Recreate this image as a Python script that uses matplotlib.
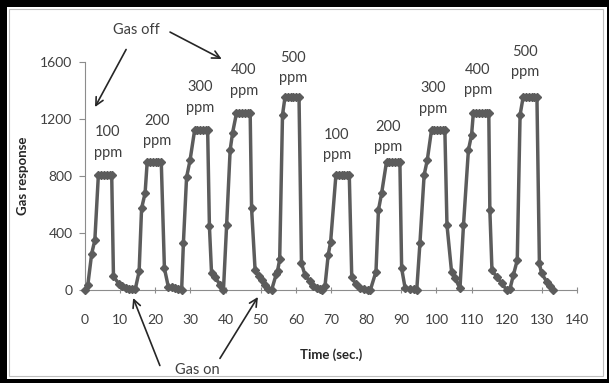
import matplotlib
matplotlib.use("Agg")
import matplotlib.pyplot as plt
from matplotlib.patches import Rectangle

plt.rcParams['font.family'] = ['Lato', 'DejaVu Sans']

# Sensor response over repeated exposure cycles (100-500 ppm, twice)
time_s = [
    0.0, 0.8, 1.9, 2.8, 3.8, 4.6, 5.4, 6.2, 7.0, 7.6, 8.1, 9.6, 10.6, 11.6, 12.6, 13.5,
    14.3, 15.4, 16.1, 17.1, 17.7, 18.5, 19.3, 20.1, 20.9, 21.7, 22.6, 23.7, 24.7, 25.6, 26.6, 27.5,
    28.0, 28.9, 29.9, 31.2, 32.0, 32.8, 33.6, 34.4, 34.9, 35.4, 36.0, 37.0, 38.4, 39.4,
    40.3, 41.3, 42.0, 43.1, 43.9, 44.7, 45.5, 46.3, 47.0, 47.4, 48.4, 49.4, 50.3, 51.3, 52.2, 53.1,
    54.4, 54.8, 55.4, 56.2, 56.9, 57.7, 58.5, 59.3, 60.1, 60.9, 61.6, 62.6, 64.0, 65.0, 65.9, 66.8, 67.3,
    68.3, 69.2, 69.9, 71.4, 72.2, 73.0, 73.8, 74.6, 75.2, 75.9, 77.0, 78.3, 79.5, 80.4, 81.2,
    82.8, 83.5, 84.4, 85.8, 86.6, 87.4, 88.2, 89.0, 89.6, 90.1, 91.1, 92.5, 93.5, 94.4,
    95.3, 96.5, 97.4, 98.6, 99.4, 100.2, 101.0, 101.8, 102.4, 103.0, 104.3, 105.3, 106.7,
    107.7, 109.1, 110.0, 110.5, 111.3, 112.1, 112.9, 113.7, 114.4, 114.9, 115.2, 115.8, 117.1, 118.6, 120.0,
    120.9, 121.9, 123.0, 123.8, 124.7, 125.5, 126.3, 127.1, 127.9, 128.6, 129.3, 129.9, 131.4, 132.3, 133.3,
]
response = [
    0, 35, 255, 350, 805, 805, 805, 805, 805, 805, 95, 45, 25, 15, 10, 8,
    5, 130, 573, 680, 900, 900, 900, 900, 900, 900, 152, 23, 18, 14, 8, 0,
    330, 790, 912, 1123, 1123, 1123, 1123, 1123, 1123, 449, 122, 94, 35, 0,
    456, 982, 1104, 1240, 1240, 1240, 1240, 1240, 1240, 573, 140, 100, 70, 35, 5, 0,
    110, 135, 215, 1228, 1352, 1352, 1352, 1352, 1352, 1352, 187, 105, 60, 30, 12, 5, 0,
    30, 245, 340, 807, 807, 807, 807, 807, 807, 94, 40, 12, 5, 3, 0,
    129, 561, 678, 900, 900, 900, 900, 900, 900, 152, 12, 8, 5, 0,
    327, 807, 912, 1123, 1123, 1123, 1123, 1123, 1123, 456, 129, 82, 12,
    456, 982, 1088, 1240, 1240, 1240, 1240, 1240, 1240, 1240, 561, 140, 94, 47, 0,
    5, 105, 210, 1228, 1357, 1357, 1357, 1357, 1357, 1357, 187, 117, 58, 25, 0,
]

# Concentration labels above each peak
conc_labels = ["100", "200", "300", "400", "500", "100", "200", "300", "400", "500"]
label_t = [6.5, 20.5, 32.7, 45.2, 59.2, 71.7, 86.2, 99.0, 111.8, 125.2]
label_v = [1035, 1116, 1351, 1470, 1561, 1018, 1077, 1344, 1474, 1600]

x_ticks = list(range(0, 141, 10))
y_ticks = [0, 400, 800, 1200, 1600]

W, H, DPI = 609, 383, 100
fig = plt.figure(figsize=(W / DPI, H / DPI), dpi=DPI)
fig.patch.set_facecolor("white")

# outer frame
def px_rect(x0, y0, x1, y1, color, z=10):
    fig.patches.append(Rectangle((x0 / W, 1 - y1 / H), (x1 - x0) / W, (y1 - y0) / H,
                                 transform=fig.transFigure, facecolor=color,
                                 edgecolor="none", zorder=z))

px_rect(0, 0, W, 7, "black")
px_rect(0, 0, 7, H, "black")
px_rect(W - 2, 0, W, H, "black")
px_rect(0, H - 4, W, H, "black")
fig.patches.append(Rectangle((9 / W, 1 - 376 / H), (603 - 9) / W, (376 - 9) / H,
                             transform=fig.transFigure, facecolor="none",
                             edgecolor="#bfbfbf", linewidth=0.8, zorder=9))

x0, x1, y0, y1 = 85, 577, 290, 62
ax = fig.add_axes([x0 / W, 1 - y0 / H, (x1 - x0) / W, (y0 - y1) / H])
ax.set_xlim(0, 140)
ax.set_ylim(0, 1600)
for s in ("top", "right"):
    ax.spines[s].set_visible(False)
for s in ("left", "bottom"):
    ax.spines[s].set_color("#8c8c8c")
    ax.spines[s].set_linewidth(0.8)

line_color = "#5c5c5c"
ax.plot(time_s, response, color=line_color, linewidth=2.5, marker="D",
        markersize=4.5, markerfacecolor=line_color, markeredgecolor=line_color,
        clip_on=False, zorder=5)

ax.set_xticks(x_ticks)
ax.set_yticks(y_ticks)
ax.tick_params(axis="both", colors="#8c8c8c", labelcolor="#404040", labelsize=10, width=0.8)
ax.tick_params(axis="x", direction="inout", length=5, pad=15)
ax.tick_params(axis="y", direction="out", length=4, pad=5)

ax.set_xlabel("Time (sec.)", fontsize=9.5, fontweight="bold", color="#262626", labelpad=16)
ax.set_ylabel("Gas response", fontsize=9.5, fontweight="bold", color="#262626", labelpad=8)

for lab, t, v in zip(conc_labels, label_t, label_v):
    ax.text(t, v, f"{lab}\nppm", ha="center", va="center", fontsize=10.5,
            color="#404040", linespacing=1.55, clip_on=False)

arrow_kw = dict(arrowstyle="->", color="#262626", lw=1.2, mutation_scale=14)
txt_kw = dict(fontsize=10.5, color="#404040", ha="center", va="center", annotation_clip=False)

# "Gas off" with two arrows
ax.annotate("Gas off", xy=(2.85, 1284), xytext=(14.7, 1825),
            arrowprops=dict(**arrow_kw, shrinkA=8, shrinkB=0), **txt_kw)
ax.annotate("", xy=(38.9, 1621), xytext=(24.2, 1810),
            arrowprops=dict(**arrow_kw, shrinkA=0, shrinkB=0), annotation_clip=False)

# "Gas on" with two arrows
ax.text(31.9, -560, "Gas on", fontsize=10.5, color="#404040", ha="center", va="center",
        clip_on=False)
ax.annotate("", xy=(13.7, -56), xytext=(21.3, -530),
            arrowprops=dict(**arrow_kw, shrinkA=0, shrinkB=0), annotation_clip=False)
ax.annotate("", xy=(49.2, -49), xytext=(38.4, -480),
            arrowprops=dict(**arrow_kw, shrinkA=0, shrinkB=0), annotation_clip=False)

fig.savefig("out.png", dpi=DPI)
